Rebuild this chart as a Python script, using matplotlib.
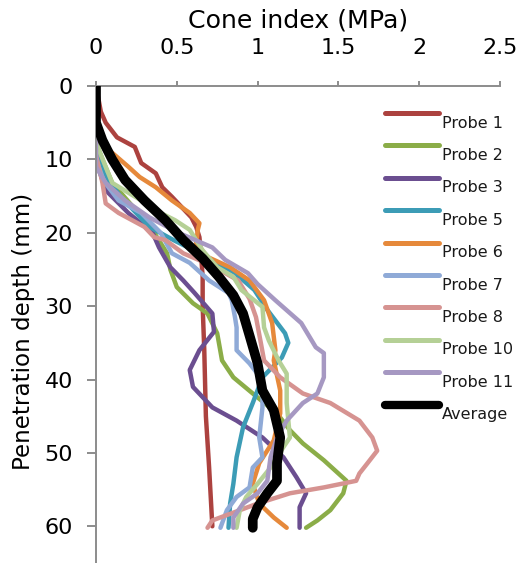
import matplotlib
matplotlib.use("Agg")
import matplotlib.pyplot as plt
from matplotlib.lines import Line2D

plt.rcParams['font.family'] = ['DejaVu Sans']

# ---------------- data (depth in mm, cone index in MPa) ----------------
p1_depth = [0, 3.5, 5, 7, 8.3, 10.5, 11.9, 13.8, 15.1, 16.5, 17.9, 19.2, 20.6, 23, 26, 30, 36, 45, 52, 56, 60]
p1_ci    = [0, 0.03, 0.06, 0.13, 0.24, 0.28, 0.37, 0.41, 0.47, 0.53, 0.59, 0.62, 0.64, 0.65, 0.66, 0.66, 0.67, 0.68, 0.70, 0.71, 0.72]

p2_depth = [0, 7, 8.3, 10, 13.2, 17, 20, 22.8, 25, 27.4, 29.6, 31, 33.7, 37.4, 39.7, 41.9, 44.6, 46.9, 48.7, 51, 53.8, 55.5, 57.8, 59.2, 60.2]
p2_ci    = [0, 0, 0.01, 0.04, 0.10, 0.25, 0.36, 0.44, 0.46, 0.50, 0.60, 0.69, 0.75, 0.78, 0.85, 0.97, 1.12, 1.20, 1.28, 1.41, 1.55, 1.53, 1.45, 1.37, 1.30]

p3_depth = [0, 10, 11.5, 14.2, 17.3, 20, 22, 24.7, 26.5, 28.2, 31, 33.5, 36, 38.7, 41, 43.8, 45.6, 47.9, 50.6, 53.3, 55.5, 57.4, 60.2]
p3_ci    = [0, 0, 0.02, 0.06, 0.20, 0.35, 0.39, 0.46, 0.54, 0.61, 0.72, 0.73, 0.64, 0.58, 0.60, 0.72, 0.87, 1.03, 1.16, 1.24, 1.30, 1.26, 1.26]

p5_depth = [0, 9, 12, 15, 19.2, 21, 23, 25.5, 27.8, 30.5, 33.7, 35, 37, 39.7, 43.2, 46.5, 50.6, 54.2, 56.9, 60.2]
p5_ci    = [0, 0, 0.05, 0.15, 0.33, 0.48, 0.66, 0.86, 0.98, 1.06, 1.17, 1.19, 1.15, 1.03, 0.97, 0.91, 0.87, 0.85, 0.83, 0.82]

p6_depth = [0, 7, 9.1, 11, 12.4, 13.8, 15.6, 17.3, 18.7, 19.6, 21.4, 23.3, 24.7, 26.5, 29.2, 32.3, 36, 37.4, 41.5, 44.6, 48.3, 51.4, 54.2, 56.9, 58.8, 60.2]
p6_ci    = [0, 0, 0.10, 0.20, 0.27, 0.37, 0.47, 0.58, 0.64, 0.63, 0.62, 0.69, 0.83, 0.95, 1.04, 1.09, 1.11, 1.10, 1.14, 1.14, 1.10, 1.01, 0.97, 1.01, 1.10, 1.18]

p7_depth = [0, 10, 13, 15.6, 17.3, 20, 22.8, 24.1, 26.5, 28.2, 29.2, 31.5, 32.9, 36, 37.8, 40.1, 43.8, 47.9, 50.6, 52, 54.7, 56, 57.8, 60.2]
p7_ci    = [0, 0, 0.05, 0.14, 0.28, 0.40, 0.47, 0.58, 0.70, 0.82, 0.84, 0.86, 0.87, 0.87, 0.95, 1.03, 1.03, 1.01, 1.03, 0.97, 0.95, 0.87, 0.81, 0.77]

p8_depth = [0, 9.4, 13.2, 16, 17.3, 19.2, 20.6, 21, 22.8, 24.5, 26.5, 29, 31.5, 35, 37.4, 39.7, 41.9, 43.2, 45.6, 47.9, 49.7, 51.4, 52.8, 53.8, 54.7, 55.5, 56.9, 58.3, 59.2, 60.2]
p8_ci    = [0, 0, 0.04, 0.06, 0.14, 0.30, 0.36, 0.43, 0.54, 0.72, 0.88, 0.95, 0.99, 1.02, 1.04, 1.14, 1.28, 1.45, 1.63, 1.71, 1.74, 1.68, 1.63, 1.61, 1.41, 1.20, 1.00, 0.83, 0.72, 0.69]

p10_depth = [0, 8, 8.3, 13.2, 15.6, 17.3, 18.3, 19.6, 22.4, 24.7, 26, 27.8, 30.1, 32.9, 34.7, 37.4, 39.2, 43.2, 47.9, 49.2, 52, 54.2, 56, 57.8, 60.2]
p10_ci    = [0, 0, 0.01, 0.10, 0.28, 0.40, 0.49, 0.58, 0.66, 0.75, 0.85, 0.90, 1.03, 1.04, 1.07, 1.13, 1.18, 1.18, 1.20, 1.16, 1.08, 1.00, 0.93, 0.89, 0.87]

p11_depth = [0, 11, 13.2, 15.6, 17.9, 20, 22, 23.7, 25.5, 27, 29.2, 32.3, 35.6, 36.4, 39.7, 41.9, 43.2, 45.6, 47.9, 50.6, 53.8, 55.5, 56.9, 58.8, 60.2]
p11_ci    = [0, 0, 0.06, 0.18, 0.33, 0.51, 0.72, 0.80, 0.94, 1.00, 1.11, 1.27, 1.36, 1.41, 1.41, 1.37, 1.28, 1.18, 1.12, 1.08, 1.06, 1.00, 0.91, 0.85, 0.85]

avg_depth = [0, 5, 7.4, 10, 12.8, 15.6, 18.3, 21, 23.5, 26, 28.5, 31, 34, 37.8, 41.5, 44.2, 47.9, 51.4, 53.8, 55.5, 57.4, 59, 60.2]
avg_ci    = [0, 0.0, 0.04, 0.10, 0.18, 0.30, 0.43, 0.54, 0.66, 0.76, 0.85, 0.91, 0.95, 1.00, 1.03, 1.10, 1.14, 1.12, 1.12, 1.06, 1.00, 0.97, 0.97]

series_names = ["Probe 1", "Probe 2", "Probe 3", "Probe 5", "Probe 6", "Probe 7",
                "Probe 8", "Probe 10", "Probe 11", "Average"]
series_depths = [p1_depth, p2_depth, p3_depth, p5_depth, p6_depth, p7_depth,
                 p8_depth, p10_depth, p11_depth, avg_depth]
series_values = [p1_ci, p2_ci, p3_ci, p5_ci, p6_ci, p7_ci, p8_ci, p10_ci, p11_ci, avg_ci]
series_colors = ["#AC423F", "#8BAD48", "#6B4E90", "#3C9CB6", "#E6893B", "#8FAAD7",
                 "#D69391", "#B5D096", "#A698C2", "#000000"]

x_ticks = [0, 0.5, 1, 1.5, 2, 2.5]
x_tick_labels = ["0", "0.5", "1", "1.5", "2", "2.5"]
y_ticks = [0, 10, 20, 30, 40, 50, 60]

# ---------------- figure ----------------
W, H = 522, 563
fig = plt.figure(figsize=(W / 100, H / 100), dpi=100)
ax = fig.add_axes([96 / W, 0, (500 - 96) / W, 1 - 86 / H])

for name, d, v, c in zip(series_names, series_depths, series_values, series_colors):
    lw = 7 if name == "Average" else 3.2
    ax.plot(v, d, color=c, lw=lw, solid_capstyle='round', solid_joinstyle='round',
            zorder=3 if name == "Average" else 2)

ax.set_xlim(0, 2.5)
ax.set_ylim(65, 0)
ax.xaxis.tick_top()
ax.xaxis.set_label_position('top')
ax.set_xticks(x_ticks)
ax.set_xticklabels(x_tick_labels)
ax.set_yticks(y_ticks)

gray = "#8C8C8C"
for s in ['right', 'bottom']:
    ax.spines[s].set_visible(False)
for s in ['left', 'top']:
    ax.spines[s].set_color(gray)
    ax.spines[s].set_linewidth(1.4)

ax.tick_params(axis='x', which='major', direction='out', length=3.6, width=1.4,
               color=gray, labelsize=16, pad=16.3)
ax.tick_params(axis='y', which='major', direction='out', length=6.5, width=1.4,
               color=gray, labelsize=16, pad=10)

ax.set_xlabel("Cone index (MPa)", fontsize=18.2, labelpad=8)
ax.set_ylabel("Penetration depth (mm)", fontsize=16.6)
ax.yaxis.set_label_coords((35 - 96) / 404, 1 - (331 - 86) / 477)

# ---------------- legend (manual, Excel style) ----------------
for i, (name, c) in enumerate(zip(series_names, series_colors)):
    y_line = 113 + 32.4 * i
    lw = 6 if name == "Average" else 3.6
    fig.add_artist(Line2D([385 / W, 439 / W], [1 - y_line / H, 1 - y_line / H],
                          transform=fig.transFigure, color=c, lw=lw,
                          solid_capstyle='round'))
    fig.text(442 / W, 1 - (y_line + 10) / H, name, fontsize=11.5,
             va='center', ha='left', color='#1a1a1a')

fig.savefig("out.png", dpi=100)
